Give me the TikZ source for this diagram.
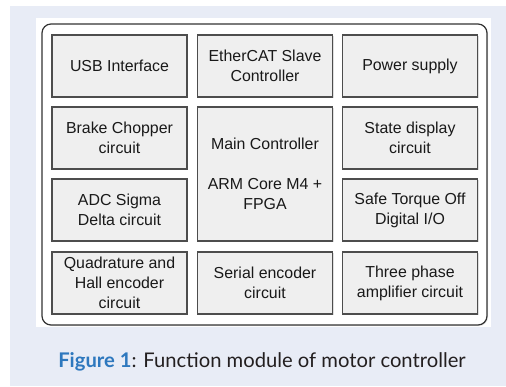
\documentclass[tikz,border=0pt]{standalone}
\usepackage{fontspec}
\setmainfont{Liberation Sans}
\newfontfamily\capfont{Lato}
\usetikzlibrary{shadows}
\definecolor{bgblue}{HTML}{E8ECF6}
\definecolor{boxfill}{HTML}{EFEFEF}
\definecolor{boxline}{HTML}{4D4D4D}
\definecolor{frameline}{HTML}{333333}
\definecolor{figblue}{HTML}{2E78BE}
\definecolor{captext}{HTML}{231F20}
\begin{document}
\begin{tikzpicture}[x=1pt,y=-1pt,
  module/.style={draw=boxline, line width=1.1pt, fill=boxfill,
    minimum width=135pt, minimum height=62pt, align=center, inner sep=0pt,
    font=\fontsize{15.9}{20}\selectfont, text=black!90,
    drop shadow={opacity=0.25, shadow xshift=1pt, shadow yshift=-1pt}},
  frame/.style={draw=frameline, line width=1.2pt, fill=white, rounded corners=9pt,
    drop shadow={opacity=0.2, shadow xshift=1pt, shadow yshift=-1pt}},
  captionstyle/.style={font=\capfont\fontsize{20.2}{23}\selectfont, text=captext, inner sep=0pt}
]
\useasboundingbox (0,0) rectangle (506,386);
% backgrounds
\fill[white] (0,0) rectangle (506,386);
\fill[bgblue] (10,6) rectangle (506,386);
\fill[white] (36,18) rectangle (491,327);
\draw[frame] (42,24) rectangle (487,325);
% row 1
\node[module] (usb) at (119.5,66) {USB Interface};
\node[module] (ecat) at (265,66) {EtherCAT Slave\\Controller};
\node[module] (power) at (410,66) {Power supply};
% row 2
\node[module] (brake) at (119.5,138) {Brake Chopper\\circuit};
\node[module, minimum height=134pt] (main) at (265,174) {Main Controller\\[20pt]ARM Core M4 +\\FPGA};
\node[module] (state) at (410,138) {State display\\circuit};
% row 3
\node[module] (adc) at (119.5,210) {ADC Sigma\\Delta circuit};
\node[module] (sto) at (410,210) {Safe Torque Off\\Digital I/O};
% row 4
\node[module] (quad) at (119.5,283) {Quadrature and\\Hall encoder\\circuit};
\node[module] (serial) at (265,283) {Serial encoder\\circuit};
\node[module] (three) at (410,283) {Three phase\\amplifier circuit};
% caption
\node[captionstyle] (cap) at (262,362) {\textcolor{figblue}{\bfseries Figure 1}: Function module of motor controller};
\end{tikzpicture}
\end{document}
